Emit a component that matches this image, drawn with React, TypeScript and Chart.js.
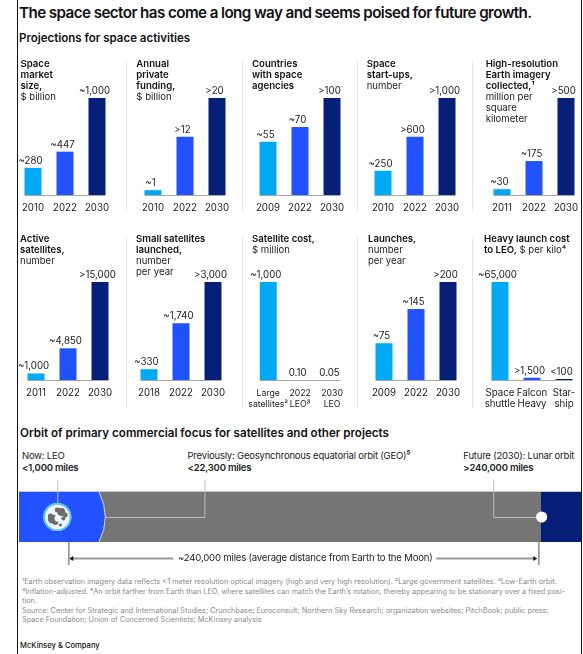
import React, { useEffect, useRef } from "react";
import { Chart, registerables } from "chart.js";

Chart.register(...registerables);

const FONT = "Inter, 'Liberation Sans', sans-serif";
const INK = "#222222";
const LIGHT_BLUE = "#00A9F4";
const MID_BLUE = "#2251FF";
const NAVY = "#061F79";
const BAR_COLORS = [LIGHT_BLUE, MID_BLUE, NAVY];
const CHART_TEXT_SIZE = 9.7;

// Projections for space activities
const marketSizeYears = ["2010", "2022", "2030"];
const marketSizeValues = [280, 447, 1000];
const marketSizeLabels = ["~280", "~447", "~1,000"];

const fundingYears = ["2010", "2022", "2030"];
const fundingValues = [1, 12, 20];
const fundingLabels = ["~1", ">12", ">20"];

const agenciesYears = ["2009", "2022", "2030"];
const agenciesValues = [55, 70, 100];
const agenciesLabels = ["~55", "~70", ">100"];

const startUpsYears = ["2010", "2022", "2030"];
const startUpsValues = [250, 600, 1000];
const startUpsLabels = ["~250", ">600", ">1,000"];

const imageryYears = ["2011", "2022", "2030"];
const imageryValues = [30, 175, 500];
const imageryLabels = ["~30", "~175", ">500"];

const activeSatYears = ["2011", "2022", "2030"];
const activeSatValues = [1000, 4850, 15000];
const activeSatLabels = ["~1,000", "~4,850", ">15,000"];

const smallSatYears = ["2018", "2022", "2030"];
const smallSatValues = [330, 1740, 3000];
const smallSatLabels = ["~330", "~1,740", ">3,000"];

const satCostCategories = [["Large", "satellites²"], ["2022", "LEO³"], ["2030", "LEO"]];
const satCostValues = [1000, 0.1, 0.05];
const satCostLabels = ["~1,000", "0.10", "0.05"];

const launchesYears = ["2009", "2022", "2030"];
const launchesValues = [75, 145, 200];
const launchesLabels = ["~75", "~145", ">200"];

const heavyCostCategories = [["Space", "shuttle"], ["Falcon", "Heavy"], ["Star-", "ship"]];
const heavyCostValues = [65000, 1500, 100];
const heavyCostLabels = ["~65,000", ">1,500", "<100"];

// Orbit strip, in miles from Earth's orbit reference
const orbitBandStarts = [-25170, 15700, 241200];
const orbitBandEnds = [15700, 241200, 261800];
const orbitBandColors = [MID_BLUE, "#757575", NAVY];
const averageMoonDistance = 240000;

type Line = [string, string];
type Panel = {
  left: number;
  textLeft: number;
  title: Line[];
  categories: (string | string[])[];
  values: number[];
  labels: string[];
  sliver?: boolean;
  tickSize?: number;
};

const topRow: Panel[] = [
  { left: 17, textLeft: 20.5, categories: marketSizeYears, values: marketSizeValues, labels: marketSizeLabels,
    title: [["Space", ""], ["market", ""], ["size,", ""], ["", "$ billion"]] },
  { left: 136.5, textLeft: 136.3, categories: fundingYears, values: fundingValues, labels: fundingLabels,
    title: [["Annual", ""], ["private", ""], ["funding,", ""], ["", "$ billion"]] },
  { left: 252.3, textLeft: 252, categories: agenciesYears, values: agenciesValues, labels: agenciesLabels,
    title: [["Countries", ""], ["with space", ""], ["agencies", ""]] },
  { left: 367.3, textLeft: 366.7, categories: startUpsYears, values: startUpsValues, labels: startUpsLabels,
    title: [["Space", ""], ["start-ups,", ""], ["", "number"]] },
  { left: 486.2, textLeft: 485.7, categories: imageryYears, values: imageryValues, labels: imageryLabels,
    title: [["High-resolution", ""], ["Earth imagery", ""], ["collected,¹", ""], ["", "million per"], ["", "square"], ["", "kilometer"]] },
];

const bottomRow: Panel[] = [
  { left: 20, textLeft: 20, categories: activeSatYears, values: activeSatValues, labels: activeSatLabels,
    title: [["Active", ""], ["satellites,", ""], ["", "number"]] },
  { left: 132.5, textLeft: 136, categories: smallSatYears, values: smallSatValues, labels: smallSatLabels,
    title: [["Small satellites", ""], ["launched,", ""], ["", "number"], ["", "per year"]] },
  { left: 252, textLeft: 252, categories: satCostCategories, values: satCostValues, labels: satCostLabels, tickSize: 8.7,
    title: [["Satellite cost,", ""], ["", "$ million"]] },
  { left: 368.3, textLeft: 368, categories: launchesYears, values: launchesValues, labels: launchesLabels,
    title: [["Launches,", ""], ["", "number"], ["", "per year"]] },
  { left: 483.7, textLeft: 484, categories: heavyCostCategories, values: heavyCostValues, labels: heavyCostLabels, sliver: true,
    title: [["Heavy launch cost", ""], ["to LEO,", " $ per kilo⁴"]] },
];

const PLOT_WIDTH = 96;
const SIDE_PAD = 14;

// Value captions above the bars and a baseline that spans only the bars.
const barAnnotations = {
  id: "barAnnotations",
  afterDatasetsDraw(chart: any, _args: any, opts: any) {
    const { ctx, scales } = chart;
    const bars = chart.getDatasetMeta(0).data;
    const base = scales.y.getPixelForValue(0);
    ctx.save();
    ctx.strokeStyle = "#a8a8a8";
    ctx.lineWidth = 1;
    ctx.beginPath();
    ctx.moveTo(bars[0].x - bars[0].width / 2, base + 0.5);
    ctx.lineTo(bars[2].x + bars[2].width / 2, base + 0.5);
    ctx.stroke();
    ctx.fillStyle = INK;
    ctx.font = `400 ${CHART_TEXT_SIZE}px ${FONT}`;
    ctx.textAlign = "center";
    ctx.textBaseline = "middle";
    bars.forEach((bar: any, i: number) => {
      ctx.fillText(opts.labels[i], bar.x - 2.5, bar.y - 7);
    });
    ctx.restore();
  },
};

function PanelChart({ panel, top, plotTop, baseline, bottom }: { panel: Panel; top: number; plotTop: number; baseline: number; bottom: number }) {
  const ref = useRef<HTMLCanvasElement>(null);
  useEffect(() => {
    const tickSize = panel.tickSize ?? CHART_TEXT_SIZE;
    const chart = new Chart(ref.current!, {
      type: "bar",
      data: {
        labels: panel.categories as any,
        datasets: [{
          data: panel.values,
          backgroundColor: BAR_COLORS,
          barPercentage: 1,
          categoryPercentage: 17 / 32,
          minBarLength: panel.sliver ? 1 : 0,
        }],
      },
      options: {
        animation: false,
        responsive: false,
        layout: { padding: { top: plotTop - top, left: SIDE_PAD, right: SIDE_PAD, bottom: 0 } },
        plugins: {
          legend: { display: false },
          tooltip: { enabled: false },
          barAnnotations: { labels: panel.labels },
        } as any,
        scales: {
          x: {
            grid: { display: false, drawTicks: false },
            border: { display: false },
            ticks: {
              autoSkip: false,
              maxRotation: 0,
              minRotation: 0,
              padding: 8,
              color: INK,
              font: { family: FONT, size: tickSize, lineHeight: 11 / tickSize },
            },
            afterFit: (s: any) => { s.height = bottom - baseline; },
          },
          y: { display: false, min: 0, max: Math.max(...panel.values) },
        },
      },
      plugins: [barAnnotations],
    });
    return () => chart.destroy();
  }, [panel, top, plotTop, baseline, bottom]);
  return (
    <canvas
      ref={ref}
      width={PLOT_WIDTH + SIDE_PAD * 2}
      height={bottom - top}
      style={{ position: "absolute", left: panel.left - SIDE_PAD, top, width: PLOT_WIDTH + SIDE_PAD * 2, height: bottom - top }}
    />
  );
}

function drawEarth(ctx: CanvasRenderingContext2D, x: number, y: number) {
  ctx.fillStyle = "#ffffff";
  ctx.beginPath();
  ctx.arc(x, y, 14, 0, Math.PI * 2);
  ctx.fill();
  ctx.strokeStyle = "#4fc3f7";
  ctx.lineWidth = 1.8;
  ctx.beginPath();
  ctx.arc(x, y, 13.2, 0, Math.PI * 2);
  ctx.stroke();
  ctx.fillStyle = "#eaf6fb";
  ctx.beginPath();
  ctx.arc(x, y, 11, 0, Math.PI * 2);
  ctx.fill();
  ctx.fillStyle = "#6d6d6d";
  const blobs: number[][] = [[-5, 2, 4.5], [-2, 5, 3], [-7, -1, 2.5], [4, -5, 4], [0, -7, 2.5], [8, -2, 2.4], [6, 1.5, 2], [3, 8, 1.6]];
  blobs.forEach(([dx, dy, r]) => {
    ctx.beginPath();
    ctx.arc(x + dx, y + dy, r, 0, Math.PI * 2);
    ctx.fill();
  });
  ctx.fillStyle = "#f4fafd";
  ctx.beginPath();
  ctx.arc(x + 0.5, y + 1.5, 3.2, 0, Math.PI * 2);
  ctx.fill();
}

// Callouts, the curved edge of the LEO band and the Earth-Moon span.
const orbitAnnotations = {
  id: "orbitAnnotations",
  afterDatasetsDraw(chart: any) {
    const { ctx, scales } = chart;
    const px = (v: number) => scales.x.getPixelForValue(v);
    const { top, bottom } = chart.chartArea;
    const mid = (top + bottom) / 2;
    const leoEdge = px(orbitBandEnds[0]);

    ctx.save();
    // Rounded outer edge of the LEO band
    ctx.fillStyle = MID_BLUE;
    ctx.strokeStyle = "#d8d8d8";
    ctx.lineWidth = 1;
    ctx.beginPath();
    ctx.moveTo(leoEdge, top);
    ctx.quadraticCurveTo(leoEdge + 12.5, mid, leoEdge, bottom);
    ctx.closePath();
    ctx.fill();
    ctx.beginPath();
    ctx.moveTo(leoEdge, top);
    ctx.quadraticCurveTo(leoEdge + 12.5, mid, leoEdge, bottom);
    ctx.stroke();

    // Hairline along the top of the strip
    ctx.strokeStyle = "#c8c8c8";
    ctx.beginPath();
    ctx.moveTo(chart.chartArea.left, top - 0.5);
    ctx.lineTo(chart.chartArea.right, top - 0.5);
    ctx.stroke();

    // Leader lines from the captions
    ctx.strokeStyle = "#bdbdbd";
    const earthX = px(-5600);
    ctx.beginPath();
    ctx.moveTo(earthX + 0.5, 5);
    ctx.lineTo(earthX + 0.5, mid - 14);
    ctx.moveTo(px(69500) + 0.5, 5);
    ctx.lineTo(px(69500) + 0.5, mid + 0.5);
    ctx.lineTo(leoEdge + 6.5, mid + 0.5);
    ctx.moveTo(px(217000) + 0.5, 5);
    ctx.lineTo(px(217000) + 0.5, mid + 0.5);
    ctx.lineTo(px(241200), mid + 0.5);
    ctx.stroke();

    drawEarth(ctx, earthX, mid);

    // Lunar orbit marker
    ctx.fillStyle = "#ffffff";
    ctx.beginPath();
    ctx.arc(px(241700), mid, 5.6, 0, Math.PI * 2);
    ctx.fill();

    // Span below the strip
    const spanA = px(0);
    const spanB = px(averageMoonDistance);
    const spanY = bottom + 16.5;
    ctx.strokeStyle = "#9a9a9a";
    ctx.beginPath();
    ctx.moveTo(spanA + 0.5, bottom);
    ctx.lineTo(spanA + 0.5, bottom + 23);
    ctx.moveTo(spanB + 0.5, bottom);
    ctx.lineTo(spanB + 0.5, bottom + 23);
    ctx.moveTo(spanA + 4, spanY);
    ctx.lineTo(spanA + 105, spanY);
    ctx.moveTo(spanB - 102, spanY);
    ctx.lineTo(spanB - 4, spanY);
    ctx.stroke();
    ctx.fillStyle = "#111111";
    ctx.beginPath();
    ctx.moveTo(spanA + 1, spanY);
    ctx.lineTo(spanA + 5, spanY - 2.5);
    ctx.lineTo(spanA + 5, spanY + 2.5);
    ctx.fill();
    ctx.beginPath();
    ctx.moveTo(spanB - 1, spanY);
    ctx.lineTo(spanB - 5, spanY - 2.5);
    ctx.lineTo(spanB - 5, spanY + 2.5);
    ctx.fill();
    ctx.restore();
  },
};

function OrbitChart() {
  const ref = useRef<HTMLCanvasElement>(null);
  useEffect(() => {
    const chart = new Chart(ref.current!, {
      type: "bar",
      data: {
        labels: ["Orbit"],
        datasets: orbitBandStarts.map((start, i) => ({
          data: [[start, orbitBandEnds[i]]] as any,
          backgroundColor: orbitBandColors[i],
          barPercentage: 1,
          categoryPercentage: 1,
          grouped: false,
        })),
      },
      options: {
        indexAxis: "y",
        animation: false,
        responsive: false,
        layout: { padding: { top: 17, bottom: 28, left: 19, right: 2 } },
        plugins: { legend: { display: false }, tooltip: { enabled: false } },
        scales: {
          x: { display: false, min: orbitBandStarts[0], max: orbitBandEnds[2] },
          y: { display: false },
        },
      },
      plugins: [orbitAnnotations],
    });
    return () => chart.destroy();
  }, []);
  return <canvas ref={ref} width={583} height={95} style={{ position: "absolute", left: 0, top: 475, width: 583, height: 95 }} />;
}

function Text({ x, y, size, weight = 400, color = INK, lh, children, spacing }: any) {
  return (
    <div style={{ position: "absolute", left: x, top: y, fontSize: size, fontWeight: weight, color, lineHeight: `${lh}px`, whiteSpace: "pre", fontFamily: FONT, letterSpacing: spacing }}>
      {children}
    </div>
  );
}

function PanelTitle({ panel, top }: { panel: Panel; top: number }) {
  return (
    <Text x={panel.textLeft} y={top} size={9.6} lh={11}>
      {panel.title.map((line, i) => (
        <div key={i}>
          {line[0] && <span style={{ fontWeight: 600, color: "#111" }}>{line[0]}</span>}
          {line[1] && <span>{line[1]}</span>}
        </div>
      ))}
    </Text>
  );
}

const separatorsX = [125.5, 242, 356.5, 471.5];
const footnotes = [
  "¹Earth observation imagery data reflects <1 meter resolution optical imagery (high and very high resolution). ²Large government satellites. ³Low-Earth orbit.",
  "⁴Inflation-adjusted. ⁵An orbit farther from Earth than LEO, where satellites can match the Earth’s rotation, thereby appearing to be stationary over a fixed posi-",
  "tion.",
  "Source: Center for Strategic and International Studies; Crunchbase; Euroconsult; Northern Sky Research; organization websites; PitchBook; public press;",
  "Space Foundation; Union of Concerned Scientists; McKinsey analysis",
];

export default function App() {
  return (
    <div style={{ position: "absolute", left: 0, top: 0, width: 583, height: 654, background: "#fff", overflow: "hidden" }}>
      <div style={{ position: "absolute", left: 17, top: 0, width: 1, height: 654, background: "#111" }} />
      <div style={{ position: "absolute", left: 581, top: 0, width: 1, height: 654, background: "#111" }} />

      <Text x={19} y={3} size={15.2} weight={600} lh={20} color="#111" spacing={-0.58}>
        The space sector has come a long way and seems poised for future growth.
      </Text>
      <Text x={19} y={30} size={11.5} weight={600} lh={16} color="#111">Projections for space activities</Text>

      {separatorsX.map((x) => (
        <React.Fragment key={x}>
          <div style={{ position: "absolute", left: x, top: 60, width: 1, height: 152, background: "#e6e6e6" }} />
          <div style={{ position: "absolute", left: x, top: 237, width: 1, height: 171, background: "#e6e6e6" }} />
        </React.Fragment>
      ))}

      {topRow.map((p) => (
        <React.Fragment key={p.left}>
          <PanelChart panel={p} top={60} plotTop={98} baseline={195} bottom={222} />
          <PanelTitle panel={p} top={57.5} />
        </React.Fragment>
      ))}
      {bottomRow.map((p) => (
        <React.Fragment key={p.left}>
          <PanelChart panel={p} top={237} plotTop={282} baseline={380} bottom={412} />
          <PanelTitle panel={p} top={233} />
        </React.Fragment>
      ))}

      <Text x={20} y={425} size={11.6} weight={600} lh={16} color="#111">
        Orbit of primary commercial focus for satellites and other projects
      </Text>
      <Text x={22} y={450} size={9.5} lh={11.5} spacing={-0.2}>
        <div>Now: LEO</div>
        <div style={{ fontWeight: 600 }}>{"<1,000 miles"}</div>
      </Text>
      <Text x={187.5} y={450} size={9.5} lh={11.5} spacing={-0.2}>
        <div>Previously: Geosynchronous equatorial orbit (GEO)⁵</div>
        <div style={{ fontWeight: 600 }}>{"<22,300 miles"}</div>
      </Text>
      <Text x={463.3} y={450} size={9.5} lh={11.5} spacing={-0.2}>
        <div>Future (2030): Lunar orbit</div>
        <div style={{ fontWeight: 600 }}>{">240,000 miles"}</div>
      </Text>

      <OrbitChart />

      <Text x={178} y={552} size={9.6} lh={12} spacing={-0.2}>~240,000 miles (average distance from Earth to the Moon)</Text>

      <Text x={22} y={577} size={7.3} lh={9.5} color="#8a8a8a">
        {footnotes.map((f) => <div key={f}>{f}</div>)}
      </Text>
      <Text x={20} y={640} size={7.6} weight={500} lh={12} color="#111">McKinsey &amp; Company</Text>
    </div>
  );
}
